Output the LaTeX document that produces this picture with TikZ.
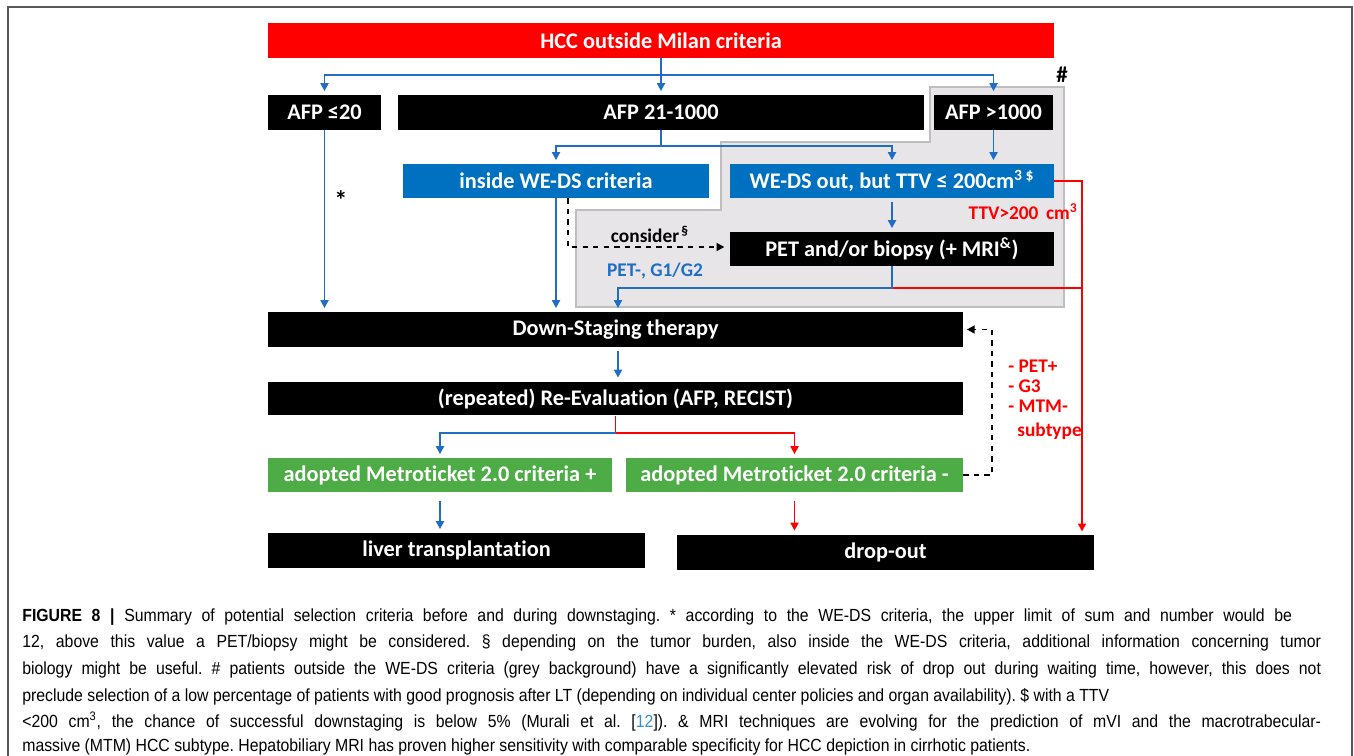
\documentclass[tikz,border=0pt]{standalone}
\usepackage{fontspec}
\setmainfont{Liberation Sans}
\newfontfamily\boxfont{Carlito}[Ligatures=NoCommon]
\newfontfamily\capfont{Liberation Sans}[FakeStretch=0.9]
\usetikzlibrary{positioning,arrows.meta}

\definecolor{boxblue}{HTML}{0070C0}
\definecolor{lineblue}{HTML}{1F6EC4}
\definecolor{boxgreen}{HTML}{4EAC47}
\definecolor{greyzone}{HTML}{E7E5E7}
\definecolor{greyedge}{HTML}{BEBEBE}
\definecolor{linkblue}{HTML}{3B8FD0}

\tikzset{
  box/.style={inner sep=0pt, minimum height=0.7cm, text=white,
    font=\boxfont\bfseries\fontsize{12.7}{14}\selectfont},
  blackbox/.style={box, fill=black},
  bluebox/.style={box, fill=boxblue},
  greenbox/.style={box, fill=boxgreen},
  redbox/.style={box, fill=red},
  tip/.style={-{Triangle[length=4.5pt,width=4.5pt]}},
  bline/.style={draw=lineblue, line width=1.1pt},
  barrow/.style={bline, tip, shorten >=2pt},
  rline/.style={draw=red, line width=1.1pt},
  rarrow/.style={rline, tip, shorten >=2pt},
  dasharrow/.style={draw=black, line width=1.1pt, dashed, tip},
  tag/.style={inner sep=0pt, font=\boxfont\bfseries\fontsize{11}{13}\selectfont},
  capline/.style={anchor=base west, inner sep=0pt,
    font=\capfont\fontsize{10}{12}\selectfont},
}

\begin{document}
\frenchspacing
\begin{tikzpicture}[x=0.02cm, y=-0.02cm]
\useasboundingbox (0,0) rectangle (1354,756);
\draw[gray!70!black, line width=0.6pt] (8,756) -- (8,7) -- (1352,7) -- (1352,756);

% grey zone: outside WE-DS
\filldraw[fill=greyzone, draw=greyedge, line width=0.8pt]
  (930,87) -- (1064,87) -- (1064,307) -- (576,307) -- (576,210)
  -- (721,210) -- (721,142) -- (930,142) -- cycle;
\node[tag, font=\boxfont\bfseries\fontsize{13}{13}\selectfont] (hash) at (1062,75) {\#};

% boxes
\node[redbox, minimum width=15.72cm] (hcc) at (661,40.5) {HCC outside Milan criteria};
\node[blackbox, minimum width=2.26cm] (afpA) at (324.5,112.5) {AFP ≤20};
\node[blackbox, minimum width=10.52cm] (afpB) at (661,112.5) {AFP 21-1000};
\node[blackbox, minimum width=2.38cm] (afpC) at (993.5,112.5) {AFP >1000};
\node[bluebox, minimum width=6.12cm, minimum height=0.68cm] (inside) at (556,181) {inside WE-DS criteria};
\node[bluebox, minimum width=6.48cm, minimum height=0.68cm] (weout) at (892,181)
  {WE-DS out, but TTV ≤ 200cm\textsuperscript{3 \$}};
\node[blackbox, minimum width=6.48cm, minimum height=0.68cm] (pet) at (892,249)
  {PET and/or biopsy (+ MRI\textsuperscript{\&})};
\node[blackbox, minimum width=13.9cm] (ds) at (615.5,329.5) {Down-Staging therapy};
\node[blackbox, minimum width=13.9cm, minimum height=0.68cm] (reeval) at (615.5,398.5)
  {(repeated) Re-Evaluation (AFP, RECIST)};
\node[greenbox, minimum width=6.88cm, minimum height=0.68cm] (mplus) at (440,475)
  {adopted Metroticket 2.0 criteria +};
\node[greenbox, minimum width=6.74cm, minimum height=0.68cm] (mminus) at (794.5,475)
  {adopted Metroticket 2.0 criteria -};
\node[blackbox, minimum width=7.54cm] (lt) at (456.5,550.5) {liver transplantation};
\node[blackbox, minimum width=8.34cm] (drop) at (885.5,552) {drop-out};

% helper points
\coordinate (split1) at (661,75);
\coordinate (split2) at (661,146);
\coordinate (j1) at (892,288);
\coordinate (redend) at (1082,535);
\coordinate (split3) at (615.5,433);
\coordinate (loopb) at (992,475);

% connectors
\draw[bline] (hcc.south) -- (split1);
\draw[barrow] (split1) -| (afpA.north);
\draw[barrow] (split1) -| (afpC.north);
\draw[barrow] (split1) -- (afpB.north);
\draw[bline] (afpB.south) -- (split2);
\draw[barrow] (split2) -| (inside.north);
\draw[barrow] (split2) -| (weout.north);
\draw[barrow] (afpC.south) -- (afpC.south |- weout.north);
\draw[barrow] (afpA.south) -- (afpA.south |- ds.north);
\draw[barrow] (inside.south) -- (inside.south |- ds.north);
\draw[dasharrow, shorten >=3pt] ([xshift=0.24cm]inside.south) |- ([yshift=0.04cm]pet.west);
\draw[barrow, shorten <=2pt] (weout.south) -- (pet.north);
\draw[rarrow] (weout.east) -| (redend);
\draw[rline] (j1) -- (j1 -| redend);
\draw[barrow] (pet.south) -- (j1) -| ([xshift=0.05cm]ds.north);
\draw[barrow, shorten <=2pt] ([xshift=0.05cm]ds.south) -- ([xshift=0.05cm]reeval.north);
\draw[rline] (reeval.south) -- (split3);
\draw[rarrow] (split3) -| (mminus.north);
\draw[barrow] (split3) -| (mplus.north);
\draw[barrow, shorten <=5pt] (mplus.south) -- (mplus.south |- lt.north);
\draw[rarrow, shorten <=5pt] (mminus.south) -- (mminus.south |- drop.north);
\draw[dasharrow, shorten >=2pt] (mminus.east) -- (loopb) |- (ds.east);

% labels
\node[tag, font=\boxfont\bfseries\fontsize{15}{15}\selectfont] (star) at (341,200) {*};
\node[tag] (consider) at (650,234) {consider\textsuperscript{\,§}};
\node[tag, text=lineblue] (petneg) at (655,271) {PET-, G1/G2};
\node[tag, text=red, anchor=east] (ttv) at (1078,212) {TTV>200 \,cm\textsuperscript{3}};
\node[tag, text=red, anchor=west] (petpos) at (1008,366) {- PET+};
\node[tag, text=red, anchor=west] (g3) at (1008,386) {- G3};
\node[tag, text=red, anchor=west] (mtm) at (1008,406) {- MTM-};
\node[tag, text=red, anchor=west] (subtype) at (1017,431) {subtype};

% caption
\node[capline] (cap1) at (22,621) {\makebox[25.4cm][s]{\textbf{FIGURE 8 |} Summary of potential selection criteria before and during downstaging. * according to the WE-DS criteria, the upper limit of sum and number would be}};
\node[capline] (cap2) at (22,647) {\makebox[25.98cm][s]{12, above this value a PET/biopsy might be considered. § depending on the tumor burden, also inside the WE-DS criteria, additional information concerning tumor}};
\node[capline] (cap3) at (22,674) {\makebox[25.98cm][s]{biology might be useful. \# patients outside the WE-DS criteria (grey background) have a significantly elevated risk of drop out during waiting time, however, this does not}};
\node[capline] (cap4) at (22,701) {preclude selection of a low percentage of patients with good prognosis after LT (depending on individual center policies and organ availability). \$ with a TTV};
\node[capline] (cap5) at (22,727) {\makebox[25.98cm][s]{<200 cm\textsuperscript{3}, the chance of successful downstaging is below 5\% (Murali et al. [\textcolor{linkblue}{12}]). \& MRI techniques are evolving for the prediction of mVI and the macrotrabecular-}};
\node[capline] (cap6) at (22,751) {massive (MTM) HCC subtype. Hepatobiliary MRI has proven higher sensitivity with comparable specificity for HCC depiction in cirrhotic patients.};
\end{tikzpicture}
\end{document}
